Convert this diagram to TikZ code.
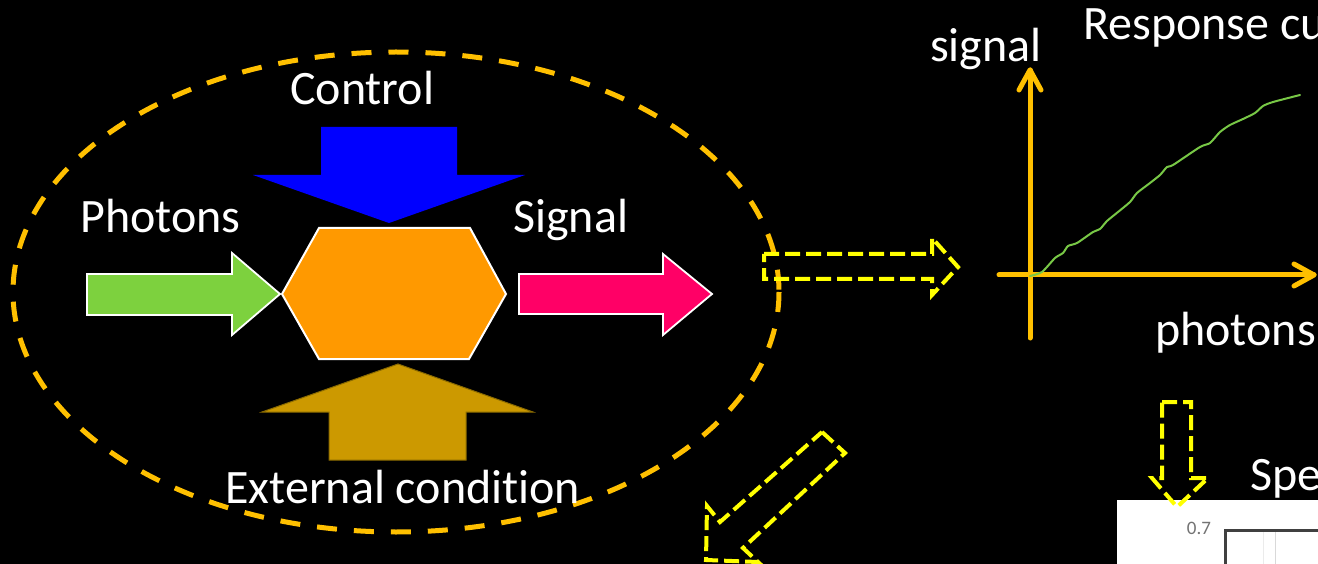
\documentclass[tikz,border=0pt]{standalone}
\usepackage{fontspec}
\setmainfont{Carlito}[Ligatures=NoCommon]
\usetikzlibrary{calc}

\definecolor{ringorange}{HTML}{FFC000}
\definecolor{hexorange}{HTML}{FF9900}
\definecolor{ctrlblue}{HTML}{0000FF}
\definecolor{extgold}{HTML}{CC9900}
\definecolor{extedge}{HTML}{8A6A00}
\definecolor{photongreen}{RGB}{125,209,62}
\definecolor{signalpink}{HTML}{FF0066}
\definecolor{curvegreen}{RGB}{120,200,70}
\definecolor{hiyellow}{HTML}{FFFF00}

\tikzset{
  label text/.style={text=white, inner sep=0pt, anchor=base west,
    font=\fontsize{48}{58}\selectfont},
  ring/.style={draw=ringorange, line width=5pt, dash pattern=on 20pt off 17pt},
  hexbox/.style={fill=hexorange, draw=white, line width=2pt, line join=miter},
  fatarrow/.style={draw=white, line width=1.8pt, line join=miter},
  hint/.style={draw=hiyellow, line width=4pt, dash pattern=on 15pt off 6pt},
  axisline/.style={draw=ringorange, line width=5pt, line cap=round, line join=round},
  curve/.style={draw=curvegreen, line width=2pt, line cap=round, line join=round},
}

\begin{document}
\begin{tikzpicture}[x=1pt, y=-1pt]
  % canvas
  \fill[black] (0,0) rectangle (1318,564);
  \useasboundingbox (0,0) rectangle (1318,564);

  % ---------- detector model ----------
  \draw[ring] (396,292) ellipse [x radius=383, y radius=240];

  % central device
  \filldraw[hexbox] (282,294) -- (319,228) -- (470,228) -- (506,294)
    -- (469,359) -- (319,359) -- cycle;

  % control input (from above)
  \fill[ctrlblue] (321,127) -- (457,127) -- (457,175) -- (525,175)
    -- (389,223) -- (253,175) -- (321,175) -- cycle;

  % external condition (from below)
  \filldraw[fill=extgold, draw=extedge, line width=1pt]
    (398,364) -- (533,412) -- (466,412) -- (466,460)
    -- (329,460) -- (329,412) -- (262,412) -- cycle;

  % photons in
  \filldraw[fatarrow, fill=photongreen] (87,274) -- (232,274) -- (232,253)
    -- (280,294) -- (232,335) -- (232,315) -- (87,315) -- cycle;

  % signal out
  \filldraw[fatarrow, fill=signalpink] (519,274) -- (663,274) -- (663,254)
    -- (712,294) -- (663,335) -- (663,314) -- (519,314) -- cycle;

  \node[label text] (photons) at (80,233) {Photons};
  \node[label text] (control) at (290,105) {Control};
  \node[label text] (signal) at (513,233) {Signal};
  \node[label text] (external) at (225,503) {External condition};

  % ---------- hint arrows ----------
  \draw[hint] (764,254) -- (932,254) -- (932,238) -- (958,267)
    -- (932,295) -- (932,279) -- (764,279) -- cycle;
  \draw[hint] (822,432) -- (845,453) -- (743,548) -- (758,562)
    -- (706,560) -- (707,506) -- (720,522) -- cycle;

  % ---------- response curve ----------
  \coordinate (origin) at (1030,275);
  \coordinate (ytop) at (1030,70);
  \coordinate (ybot) at (1030,338);
  \coordinate (xleft) at (999,275);
  \coordinate (xright) at (1314,275);
  \draw[axisline] (ybot) -- (ytop);
  \draw[axisline] (xleft) -- (xright);
  \draw[axisline] ($(ytop)+(-11,20)$) -- (ytop) -- ($(ytop)+(11,20)$);
  \draw[axisline] ($(xright)+(-20,-11)$) -- (xright) -- ($(xright)+(-20,11)$);

  \draw[curve] plot[smooth, tension=0.4] coordinates {
    (1030,276) (1042,272) (1055,258) (1063,253) (1068,246) (1077,243)
    (1093,232) (1100,229) (1107,221) (1118,212) (1130,202) (1137,193)
    (1150,183) (1160,175) (1167,167) (1173,165) (1200,147) (1210,143)
    (1220,132) (1230,125) (1243,119) (1255,113) (1263,106) (1273,102)
    (1300,95)};

  \node[label text] (ylabel) at (930,62) {signal};
  \node[label text] (title) at (1083,40) {Response cu};
  \node[label text] (xlabel) at (1155,345) {photons};

  % ---------- spectral response (plot corner) ----------
  \fill[white] (1117,500) rectangle (1318,564);
  \draw[black!8, line width=1pt] (1263,531) -- (1263,564);
  \draw[black!15, line width=1pt] (1275,531) -- (1275,564);
  \draw[black!75, line width=3pt] (1225,564) -- (1225,530) -- (1318,530);
  \node[text=black!55, inner sep=0pt, font=\fontsize{19}{22}\selectfont]
    (tick) at (1199,528) {0.7};

  \node[label text] (spectitle) at (1250,490) {Spe};

  \draw[hint] (1162,402) -- (1191,402) -- (1191,478) -- (1208,478)
    -- (1177,507) -- (1152,478) -- (1162,478) -- cycle;
\end{tikzpicture}
\end{document}
